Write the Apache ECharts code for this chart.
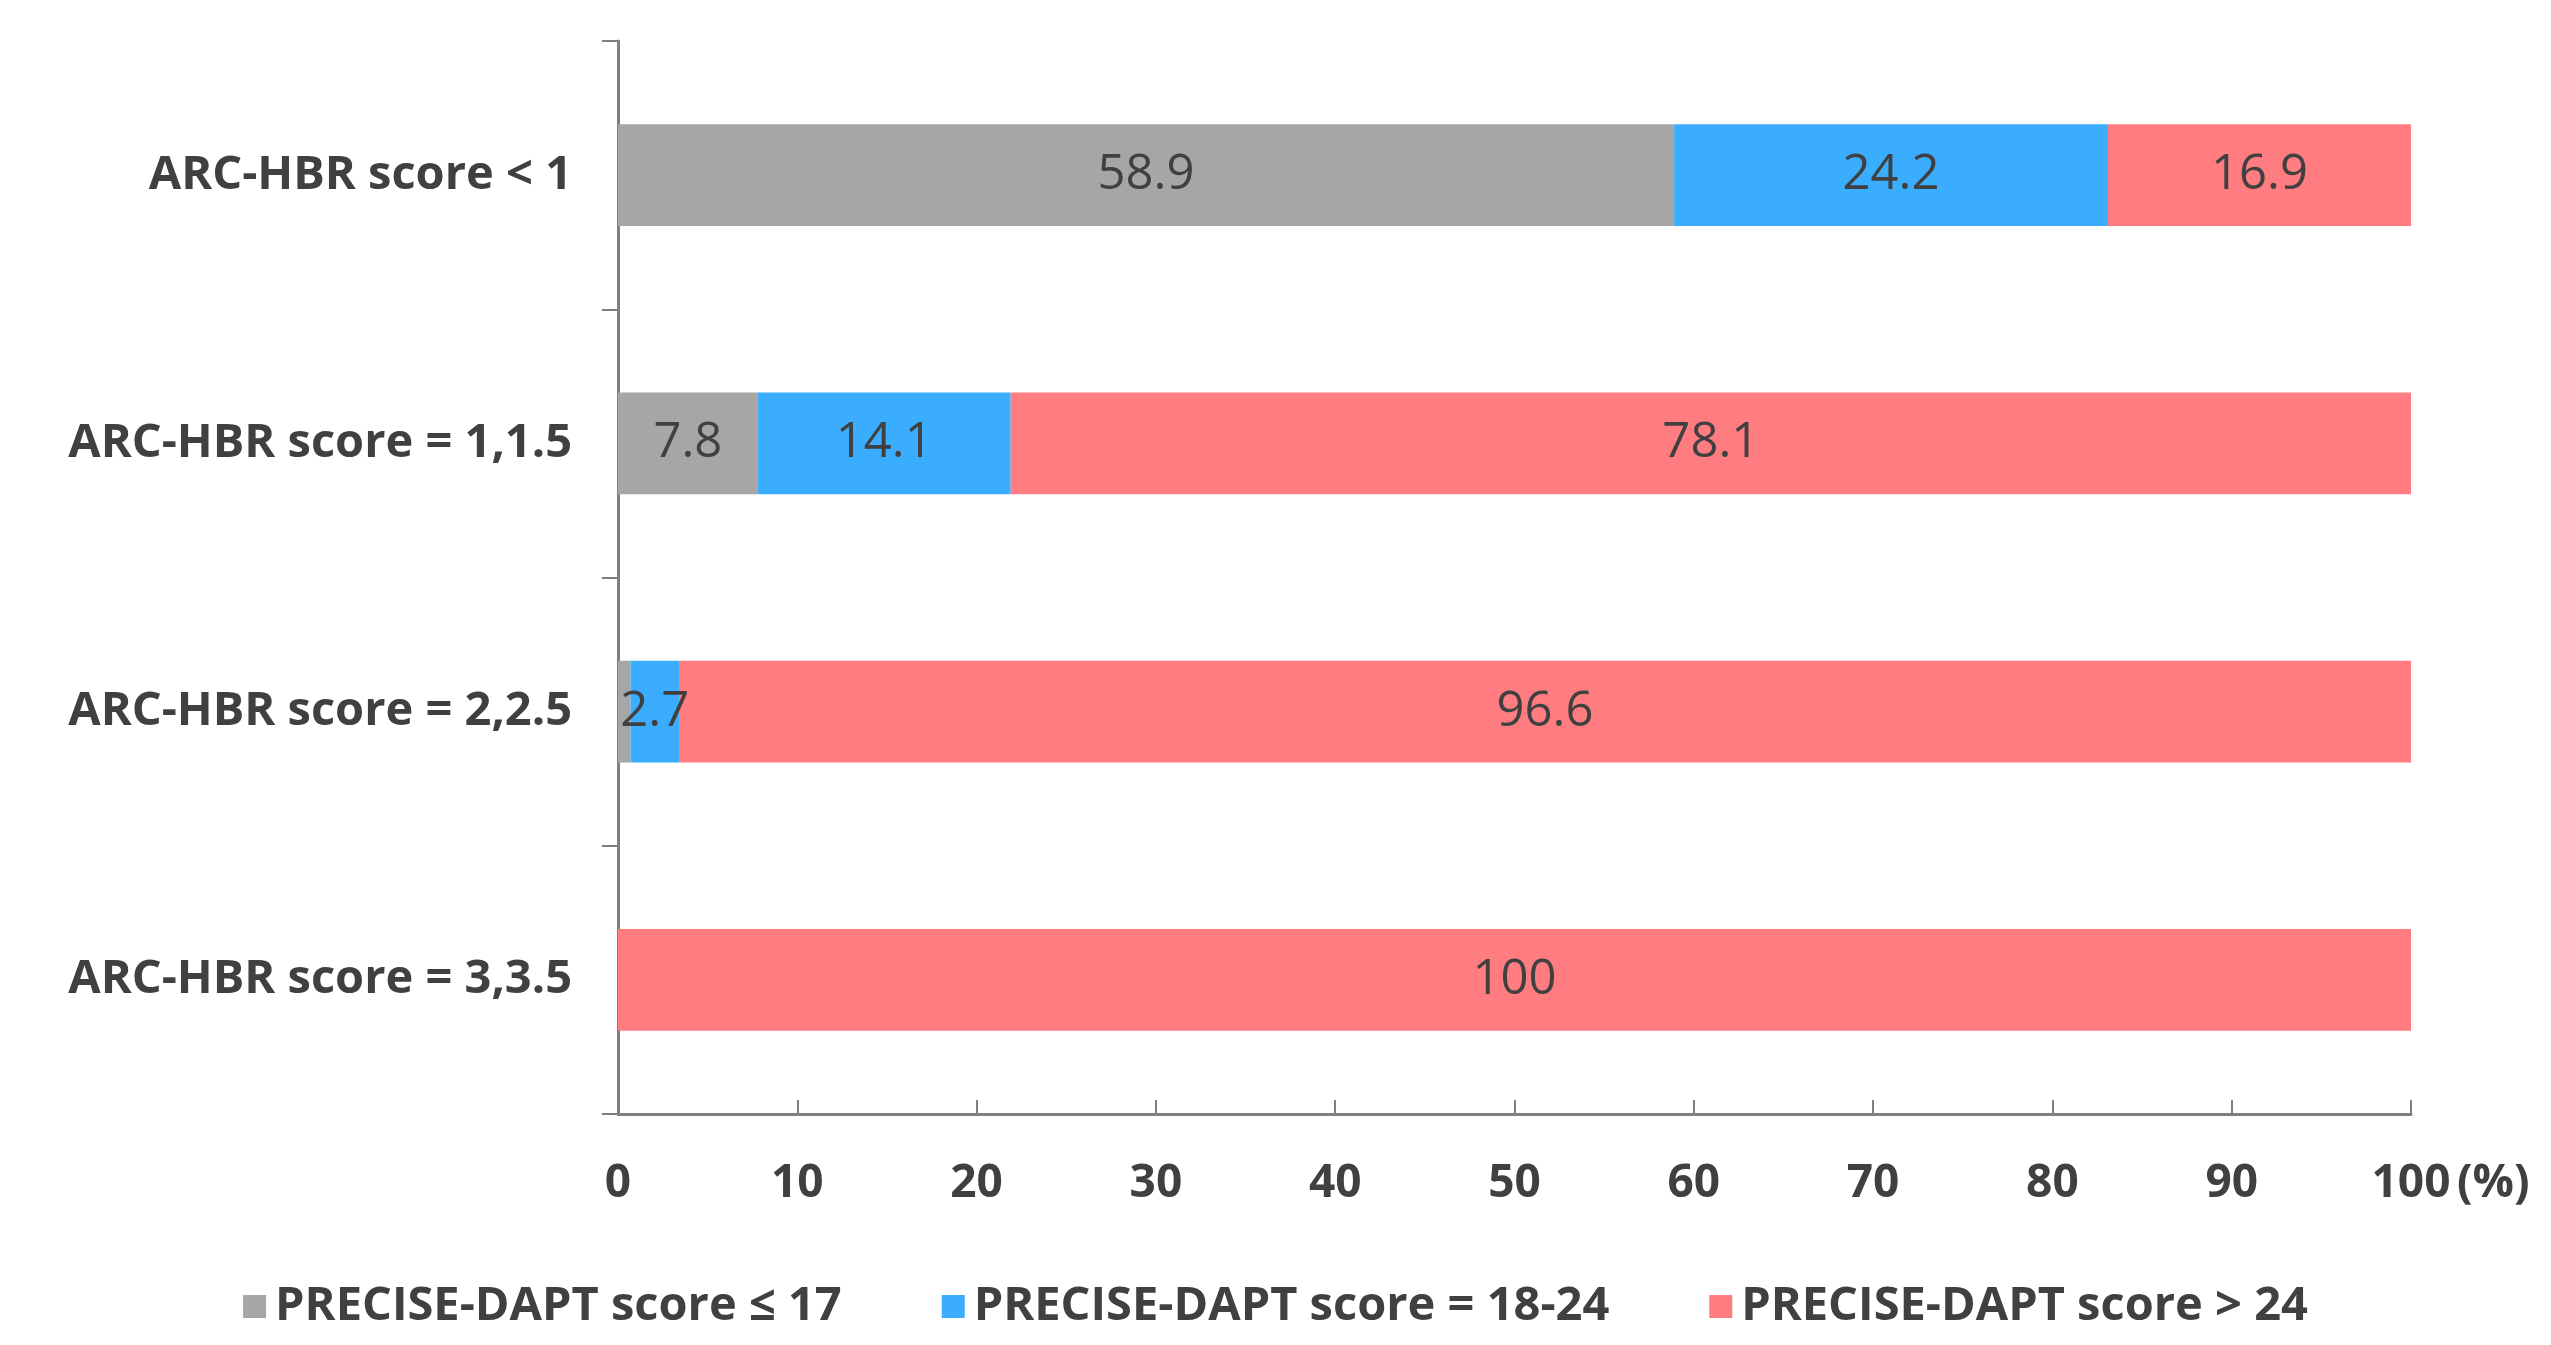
<!DOCTYPE html>
<html>
<head>
<meta charset="utf-8">
<script src="https://cdn.jsdelivr.net/npm/echarts@6/dist/echarts.min.js"></script>
<style>
html,body{margin:0;padding:0;background:#fff;}
#chart{width:2551px;height:1345px;}
</style>
</head>
<body>
<div id="chart"></div>
<script>
const categories = ['ARC-HBR score < 1', 'ARC-HBR score = 1,1.5', 'ARC-HBR score = 2,2.5', 'ARC-HBR score = 3,3.5'];
const seriesNames = ['PRECISE-DAPT score ≤ 17', 'PRECISE-DAPT score = 18-24', 'PRECISE-DAPT score > 24'];
const lowValues = [58.9, 7.8, 0.7, 0];
const midValues = [24.2, 14.1, 2.7, 0];
const highValues = [16.9, 78.1, 96.6, 100];
const xTicks = [0, 10, 20, 30, 40, 50, 60, 70, 80, 90, 100];

const colors = ['#A6A6A6', '#3BADFF', '#FF7C80'];
const font = "'Open Sans', 'Liberation Sans', sans-serif";
const textColor = '#404040';
const axisColor = '#7F7F7F';

const chart = echarts.init(document.getElementById('chart'));
const valueSets = [lowValues, midValues, highValues];

chart.setOption({
  backgroundColor: '#fff',
  animation: false,
  grid: { left: 618, right: 140, top: 41, bottom: 231, containLabel: false },
  legend: {
    data: seriesNames,
    left: 'center',
    top: 1278,
    icon: 'rect',
    itemWidth: 23,
    itemHeight: 23,
    itemGap: 100,
    textStyle: { fontFamily: font, fontSize: 47, fontWeight: 'bold', color: textColor, padding: [0, 0, 0, 4] }
  },
  xAxis: {
    type: 'value',
    min: 0,
    max: 100,
    interval: 10,
    name: '(%)',
    nameLocation: 'end',
    nameGap: 46,
    nameTextStyle: { fontFamily: font, fontSize: 46, fontWeight: 'bold', color: textColor, verticalAlign: 'top', padding: [47, 0, 0, 0] },
    axisLine: { show: true, lineStyle: { color: axisColor, width: 3 } },
    axisTick: { show: true, inside: true, length: 14, lineStyle: { color: axisColor, width: 2 } },
    splitLine: { show: false },
    axisLabel: {
      margin: 47,
      fontFamily: font, fontSize: 46, fontWeight: 'bold', color: textColor,
      customValues: xTicks
    }
  },
  yAxis: {
    type: 'category',
    inverse: true,
    data: categories,
    axisLine: { show: true, lineStyle: { color: axisColor, width: 3 } },
    axisTick: { show: true, length: 16, lineStyle: { color: axisColor, width: 2 } },
    axisLabel: { margin: 46, fontFamily: font, fontSize: 47, fontWeight: 'bold', color: textColor }
  },
  series: seriesNames.map((name, i) => ({
    name: name,
    type: 'bar',
    stack: 'total',
    barWidth: '38%',
    itemStyle: { color: colors[i] },
    label: {
      show: true,
      position: 'inside',
      fontFamily: font,
      fontSize: 49,
      color: textColor,
      formatter: p => (p.value >= 1 ? String(p.value) : '')
    },
    data: valueSets[i]
  }))
});
</script>
</body>
</html>
